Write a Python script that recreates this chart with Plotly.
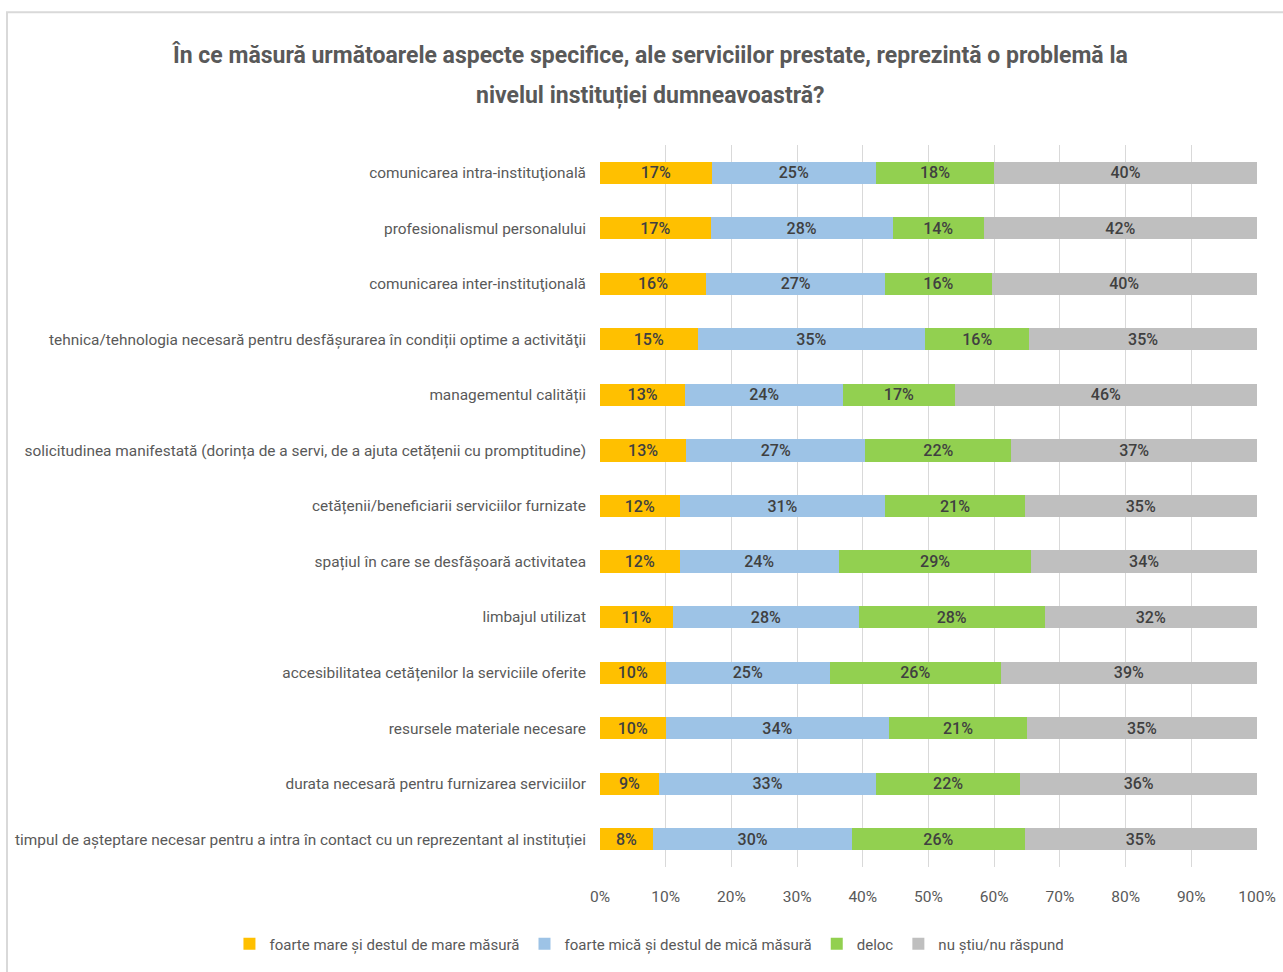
import plotly.graph_objects as go

FONT = "Roboto, 'Liberation Sans', sans-serif"

categorii = [
    "comunicarea intra-instituţională",
    "profesionalismul personalului",
    "comunicarea inter-instituţională",
    "tehnica/tehnologia necesară pentru desfășurarea în condiții optime a activităţii",
    "managementul calității",
    "solicitudinea manifestată (dorința de a servi, de a ajuta cetățenii cu promptitudine)",
    "cetățenii/beneficiarii serviciilor furnizate",
    "spațiul în care se desfășoară activitatea",
    "limbajul utilizat",
    "accesibilitatea cetățenilor la serviciile oferite",
    "resursele materiale necesare",
    "durata necesară pentru furnizarea serviciilor",
    "timpul de așteptare necesar pentru a intra în contact cu un reprezentant al instituției",
]

foarte_mare = [17, 17, 16, 15, 13, 13, 12, 12, 11, 10, 10, 9, 8]
foarte_mica = [25, 28, 27, 35, 24, 27, 31, 24, 28, 25, 34, 33, 30]
deloc = [18, 14, 16, 16, 17, 22, 21, 29, 28, 26, 21, 22, 26]
nu_stiu = [40, 42, 40, 35, 46, 37, 35, 34, 32, 39, 35, 36, 35]

titlu = [
    "În ce măsură următoarele aspecte specifice, ale serviciilor prestate, reprezintă o problemă la",
    "nivelul instituției dumneavoastră?",
]

serii = [
    ("foarte mare și destul de mare măsură", foarte_mare, "#FFC000"),
    ("foarte mică și destul de mică măsură", foarte_mica, "#9DC3E6"),
    ("deloc", deloc, "#92D050"),
    ("nu știu/nu răspund", nu_stiu, "#BFBFBF"),
]

fig = go.Figure()
for nume, valori, culoare in serii:
    fig.add_trace(go.Bar(
        y=categorii,
        x=valori,
        name=nume,
        orientation="h",
        marker=dict(color=culoare, line=dict(width=0)),
        text=[f"{v}%" for v in valori],
        textposition="inside",
        insidetextanchor="middle",
        textangle=0,
        textfont=dict(family=FONT, size=16, color="#404040", weight=500),
        constraintext="none",
    ))

# titlul pe doua randuri, cu spatiere ca in original
adnotari = []
for rand, y_px in zip(titlu, [55, 95]):
    adnotari.append(dict(
        text=f"<b>{rand}</b>",
        xref="paper", yref="paper",
        x=(650 - 600) / 657, y=1 + (145 - y_px) / 722,
        xanchor="center", yanchor="middle",
        showarrow=False,
        font=dict(family=FONT, size=23, color="#595959"),
    ))

fig.update_layout(
    width=1283,
    height=972,
    barmode="stack",
    barnorm="percent",
    bargap=0.6,
    paper_bgcolor="white",
    plot_bgcolor="white",
    margin=dict(l=600, r=26, t=145, b=105, autoexpand=False),
    font=dict(family=FONT, color="#595959", size=15),
    annotations=adnotari,
    showlegend=True,
    legend=dict(
        orientation="h",
        x=-0.564,
        xanchor="left",
        y=-0.1066,
        yanchor="middle",
        font=dict(family=FONT, size=15, color="#595959"),
        traceorder="normal",
        itemwidth=30,
    ),
    shapes=[dict(
        type="rect", xref="paper", yref="paper",
        x0=-0.9026, x1=1.06, y0=-0.2, y1=1.184,
        line=dict(color="#D9D9D9", width=2), fillcolor="rgba(0,0,0,0)", layer="below",
    )],
)

fig.update_xaxes(
    range=[0, 100],
    tickvals=list(range(0, 101, 10)),
    ticktext=[f"{v}%" for v in range(0, 101, 10)],
    showgrid=True,
    gridcolor="#D9D9D9",
    gridwidth=1,
    zeroline=False,
    showline=False,
    ticks="",
    automargin=False,
    ticklabelstandoff=18,
    tickfont=dict(family=FONT, size=15.5, color="#595959"),
)
fig.update_yaxes(
    autorange="reversed",
    showgrid=False,
    showline=False,
    ticks="",
    automargin=False,
    ticklabelstandoff=13,
    tickfont=dict(family=FONT, size=15.4, color="#595959"),
)

fig.write_html(
    "out.html",
    config={"displayModeBar": False},
    post_script="document.body.style.margin='0';",
)
